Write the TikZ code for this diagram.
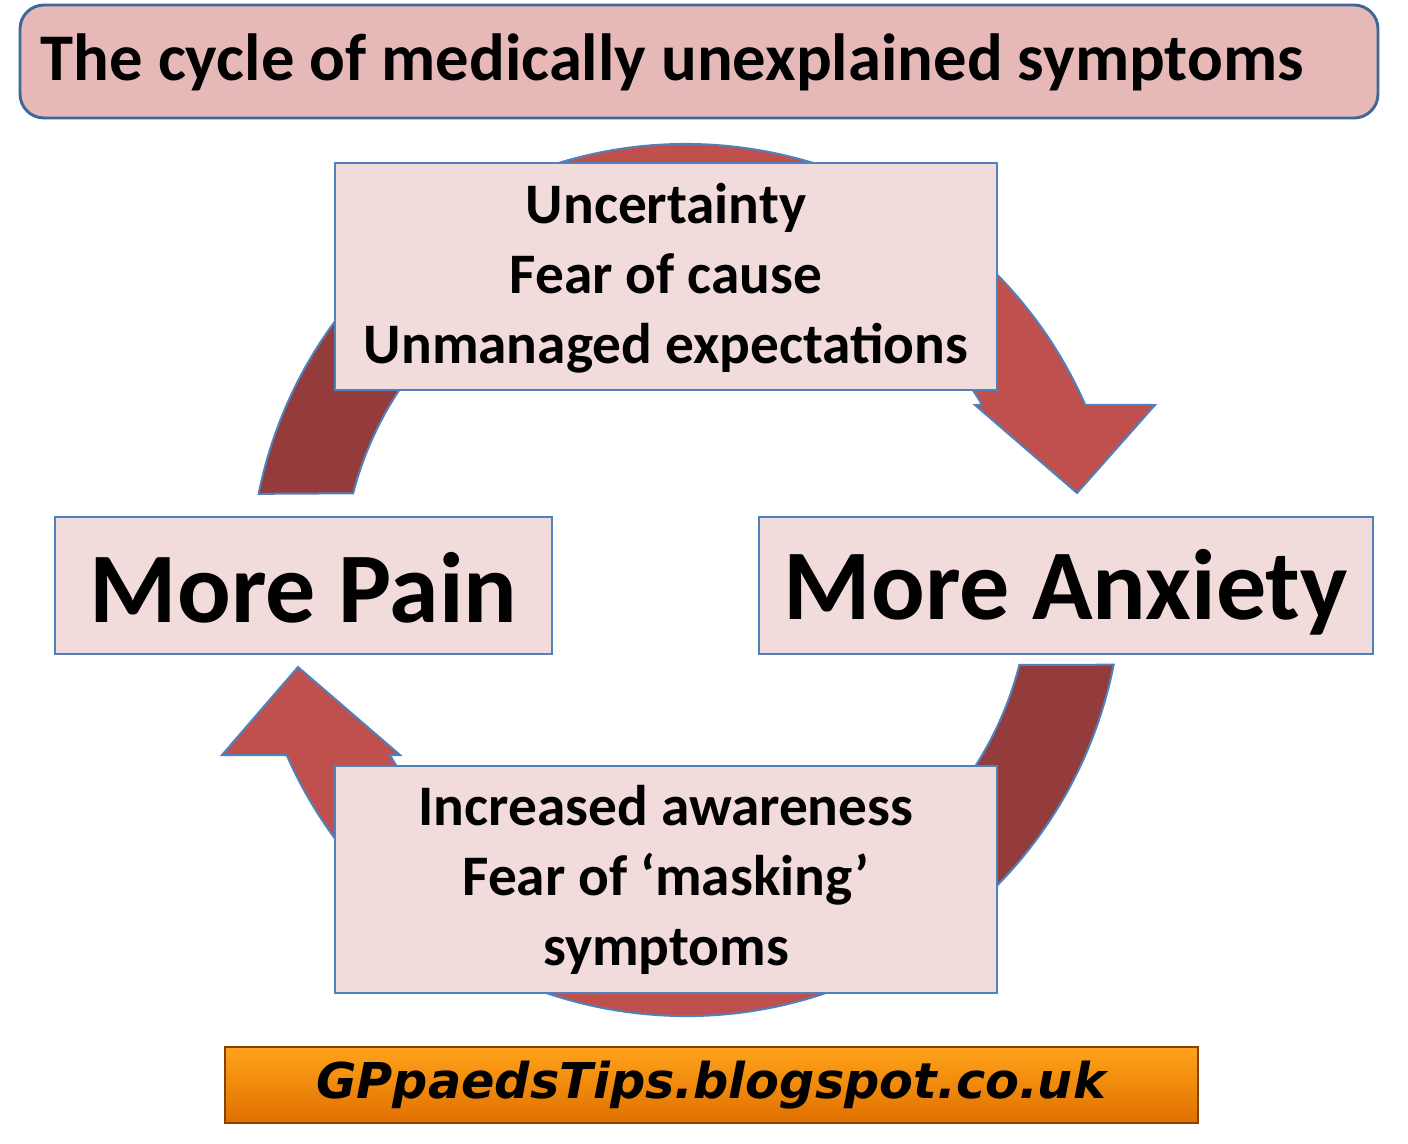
\documentclass[tikz,border=0pt]{standalone}
\usepackage{fontspec}
\setmainfont{Carlito}
\newfontfamily\webfont{DejaVu Sans}
\definecolor{boxfill}{HTML}{F2DCDB}
\definecolor{titlefill}{HTML}{E6B9B8}
\definecolor{edge}{HTML}{4F81BD}
\definecolor{arr}{HTML}{C0504D}
\definecolor{arrdark}{HTML}{943C3B}
\definecolor{orangeA}{HTML}{FFA31A}
\definecolor{orangeB}{HTML}{E07000}
\tikzset{
  pinkbox/.style={draw=edge,line width=2pt,fill=boxfill,inner sep=0pt},
  outline/.style={draw=edge,line width=1.5pt},
  bodytext/.style={font=\fontsize{43}{52.5}\selectfont\bfseries,align=center},
  bigtext/.style={font=\fontsize{75}{80}\selectfont\bfseries},
}
\newcommand{\toparrow}{([shift={(686,580)}]191.4:436) arc[start angle=191.4,end angle=336.3,radius=436]
  -- (1155,405) -- (1077,493) -- (975,405) -- ([shift={(686,580)}]329.4:344) arc[start angle=329.4,end angle=194.6,radius=344] -- cycle}
\newcommand{\botarrow}{([shift={(686,580)}]11.2:436) arc[start angle=11.2,end angle=156.3,radius=436]
  -- (222,755) -- (298,667) -- (400,755) -- ([shift={(686,580)}]149.4:344) arc[start angle=149.4,end angle=14.3,radius=344] -- cycle}
\begin{document}
\begin{tikzpicture}[x=0.75pt,y=-0.75pt]
\useasboundingbox (0,0) rectangle (1408,1143);
% title
\draw[draw=edge!80!black,line width=2.2pt,fill=titlefill,rounded corners=18pt] (20,5) rectangle (1378,118);
\node[anchor=west,font=\fontsize{50}{55}\selectfont\bfseries] (title) at (36,62) {The cycle of medically unexplained symptoms};
% top arrow
\fill[arr] \toparrow;
\fill[arrdark] ([shift={(686,580)}]191.4:436) arc[start angle=191.4,end angle=240,radius=436] -- ([shift={(686,580)}]240:344) arc[start angle=240,end angle=194.6,radius=344] -- cycle;
\path[outline] \toparrow;
% bottom arrow
\fill[arr] \botarrow;
\fill[arrdark] ([shift={(686,580)}]11.2:436) arc[start angle=11.2,end angle=60,radius=436] -- ([shift={(686,580)}]60:344) arc[start angle=60,end angle=14.3,radius=344] -- cycle;
\path[outline] \botarrow;
% boxes
\path[pinkbox] (335,163) rectangle (997,390);
\path[pinkbox] (335,766) rectangle (997,993);
\node[bodytext] (toptext) at (666,278) {Uncertainty\\Fear of cause\\Unmanaged expectations};
\node[bodytext] (bottext) at (666,880) {Increased awareness\\Fear of ‘masking’\\symptoms};
\path[pinkbox] (55,517) rectangle (552,654);
\path[pinkbox] (759,517) rectangle (1373,654);
\node[bigtext] (pain) at (303.5,588) {More Pain};
\node[bigtext] (anx) at (1066,592) {More Anxiety};
% footer
\path[draw=orangeB!60!black,line width=1.5pt,top color=orangeA,bottom color=orangeB] (225,1047) rectangle (1198,1123);
\node[font=\webfont\fontsize{37}{40}\selectfont\bfseries\itshape] (web) at (711,1085) {GPpaedsTips.blogspot.co.uk};
\end{tikzpicture}
\end{document}
